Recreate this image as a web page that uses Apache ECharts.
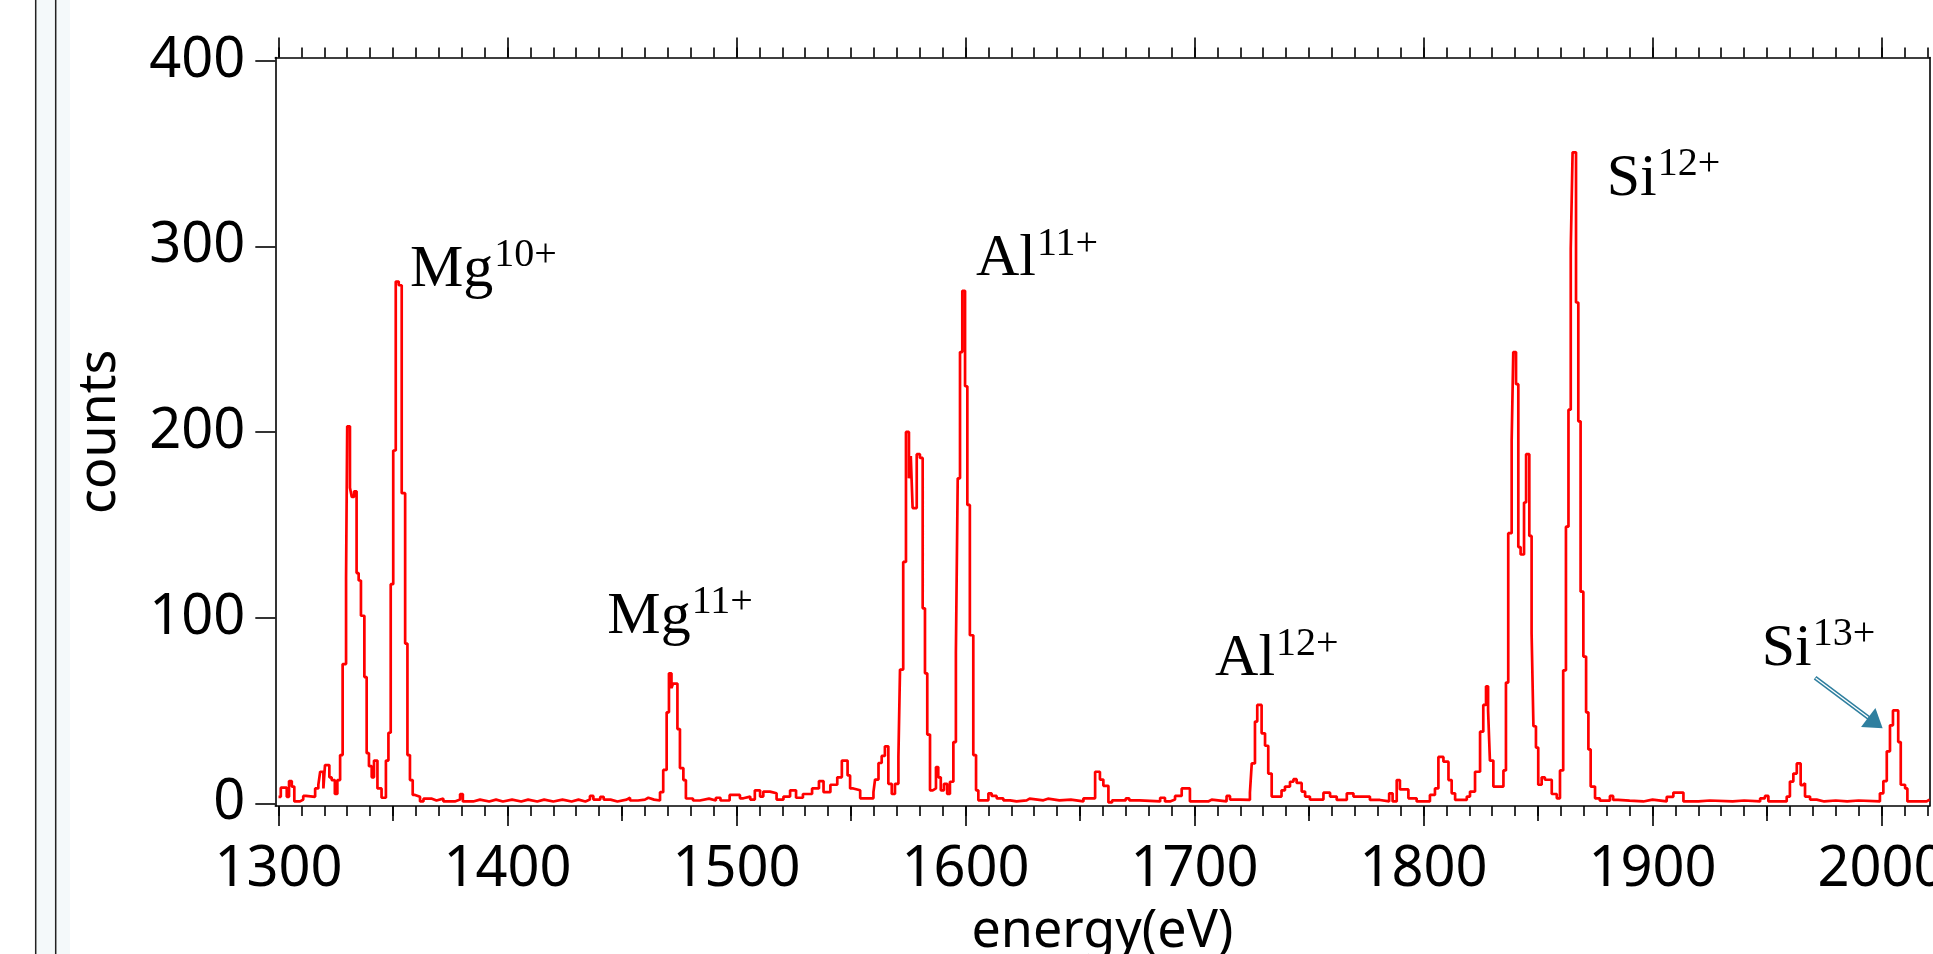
<!DOCTYPE html>
<html><head><meta charset="utf-8">
<script src="https://cdn.jsdelivr.net/npm/echarts@6/dist/echarts.min.js"></script>
<style>html,body{margin:0;padding:0;background:#fff}#c{width:1933px;height:954px}</style>
</head><body><div id="c"></div>
<script>
// ---- data: left edge of each histogram step (eV) and its counts ----
const energy = [
1300.0,1301.0,1303.6,1304.6,1305.8,1306.9,1309.4,1310.8,1312.0,1316.0,1317.4,1318.2,1319.6,1320.3,1322.2,1323.2,1324.6,1325.7,1326.9,1328.0,
1329.5,1330.0,1331.2,1332.0,1333.0,1334.1,1335.0,1336.0,1337.5,1338.5,1339.5,1340.7,1341.7,1343.2,1345.0,1346.9,1348.0,1349.0,1350.1,1351.2,
1352.5,1353.8,1355.3,1356.3,1357.4,1358.6,1359.6,1361.8,1363.3,1367.0,1369.0,1372.0,1377.0,1379.3,1380.5,1385.0,1388.0,1392.0,1395.0,1398.0,
1402.0,1406.0,1409.0,1413.0,1416.0,1420.0,1424.0,1428.0,1431.0,1434.0,1436.0,1437.5,1440.5,1442.0,1445.0,1448.0,1452.0,1453.5,1457.0,1460.0,
1461.5,1464.0,1466.6,1468.0,1469.5,1470.5,1471.6,1472.3,1474.2,1475.3,1476.8,1477.9,1481.0,1484.0,1488.0,1491.0,1493.0,1497.0,1501.5,1503.0,
1506.0,1508.0,1510.3,1511.7,1514.6,1517.5,1520.5,1523.4,1526.0,1529.0,1533.0,1536.0,1538.0,1541.0,1544.0,1546.0,1548.5,1549.6,1551.0,1554.0,
1559.8,1560.5,1562.0,1563.4,1564.8,1566.3,1567.8,1569.2,1570.7,1571.4,1572.8,1574.0,1575.3,1576.1,1576.9,1578.7,1580.1,1581.3,1582.3,1583.3,
1584.5,1585.7,1587.1,1588.1,1589.2,1590.6,1592.0,1593.2,1594.7,1595.8,1596.6,1597.6,1598.6,1599.8,1600.8,1601.9,1603.4,1604.6,1605.6,1610.0,
1611.4,1613.6,1616.5,1619.5,1622.3,1626.7,1628.0,1634.0,1636.0,1641.0,1646.0,1651.5,1656.6,1658.7,1660.2,1662.4,1664.0,1670.0,1671.5,1676.0,
1685.0,1687.1,1689.3,1691.5,1694.4,1698.0,1706.0,1707.5,1714.0,1715.5,1720.0,1724.2,1725.0,1726.4,1727.4,1729.3,1730.8,1732.2,1733.7,1738.0,
1739.5,1741.7,1743.2,1744.6,1746.8,1748.3,1750.4,1756.3,1759.2,1762.1,1766.5,1769.4,1776.6,1781.0,1785.0,1786.5,1788.3,1789.7,1793.4,1797.0,
1802.8,1805.0,1806.5,1808.7,1810.9,1812.3,1813.8,1818.9,1820.3,1822.5,1824.7,1826.1,1827.3,1828.2,1829.0,1830.5,1834.9,1836.0,1837.0,1838.5,
1839.2,1840.4,1841.4,1842.4,1843.9,1844.8,1846.2,1847.2,1848.0,1849.1,1850.1,1851.6,1853.0,1856.0,1858.2,1859.6,1861.0,1862.2,1863.3,1864.3,
1865.1,1866.6,1867.6,1868.6,1869.8,1871.0,1872.0,1873.0,1874.9,1877.0,1881.4,1882.8,1885.0,1890.0,1896.0,1900.0,1906.2,1909.1,1913.5,1920.0,
1925.0,1935.0,1940.0,1947.0,1949.1,1950.6,1958.6,1960.0,1961.5,1963.0,1964.7,1965.6,1966.6,1968.8,1971.7,1975.0,1980.0,1985.0,1990.0,1999.3,
2000.8,2002.3,2003.7,2005.0,2007.3,2008.4,2010.3,2011.3,2019.7
];
const counts = [
3.5,8.4,3.5,12,9,1,2,4,3.5,8,10,17,8,20.6,14,12.5,5,12.5,26,75,
121,203,170,165,168,124,120,101,68,27,20,14,23,8,3,23,38,118,190,281,
279,167,86,26,12.5,4.5,3.5,1,2.5,1.5,2.5,1,2,5,1,2,1,2,1,2,
1,2,1,2,1,2,1,2,1,2,4,2,3.5,2,1,2,3,1.5,2,3,
2,1.5,6,18,49,70,62,64.5,40,19,12.5,2.6,1.5,2.5,1.5,3,1.5,4.5,2.7,3.6,
2,7,3.6,6.3,5.4,2,3.6,7,3,5,8,12,6,10,14,23,15,8,7,2.7,
6,12.8,21.7,25.5,30.7,10.5,5,10.5,25,72,130,200,175,187,159,188,186,105,70,37,
7,8,19.5,14,7,10.5,5,11.6,33,81,175,243,276,224.6,160.7,90.5,26,7,1.6,5.4,
4,2.7,1.6,1,1.6,2.5,1.6,2.5,1.6,2,1,2.7,17,12.8,9.4,0.5,1.6,2.7,1.6,1,
3,1,2,4,8,1,2,1,4,2,1.8,5.7,21.5,44,53,37.7,31,16,3.6,7,
9,11.6,13,11,6.3,3.6,2,5.7,3.6,1.8,5.4,3.6,1.8,1,5.4,1,12.5,7.5,2.7,1,
4.5,8,25,22.4,12.5,5.4,1.8,3.6,6.3,17,38.6,53,63,50,23,9,17.7,65,145.5,195.7,
243,225.7,138,134,162,188,144,91.6,41.5,30,10,14,12.7,5,2.7,17.7,71.6,149,212,298.5,
350.6,269.7,205.7,114,79,49,29,9,2.7,1.4,4,1.8,1.4,1,2,1,3.5,5.8,1,1.5,
1,1.5,1,2.7,4,1,3.6,11.7,16,21.5,9.8,10.8,3.6,2,1,1.5,1,1.5,1,5.4,
12,28,42,50,33,10,8,1,2
];
const lastEdge = 2021;

const xTickValues = [1300,1400,1500,1600,1700,1800,1900,2000];
const xTickLabels = ['1300','1400','1500','1600','1700','1800','1900','2000'];
const yTickValues = [0,100,200,300,400];
const yTickLabels = ['0','100','200','300','400'];

// peak labels: element, charge, anchor (left edge energy, baseline counts)
const peakNames  = ['Mg','Mg','Al','Al','Si','Si'];
const peakCharge = ['10+','11+','11+','12+','12+','13+'];
const peakLabelX = [1357.4,1443.6,1604.6,1709.0,1880.0,1947.7];
const peakLabelY = [278.6,91.5,284.3,69.1,327.4,74.5];
const arrowFrom = [1971.0, 67.6];
const arrowTo   = [2000.5, 40.4];

// ---- chart ----
const X_MIN = 1298.6, X_MAX = 2021, Y_MIN = -1.45, Y_MAX = 401.6;
const SANS = 'Noto Sans';
const SERIF = 'Liberation Serif';
const AX = {color:'#000', width:1.6};

const xMinor = []; for (let v = 1300; v <= 2020; v += 10) xMinor.push(v);
const xMid = []; for (let v = 1350; v <= 2000; v += 100) xMid.push(v);

const pts = energy.map((e,i)=>[e, counts[i]]);
pts.push([lastEdge, counts[counts.length-1]]);

function xAx(extra){
  return Object.assign({type:'value', min:X_MIN, max:X_MAX, gridIndex:0, splitLine:{show:false},
    axisLabel:{show:false}, axisTick:{show:false}, axisLine:{show:false,onZero:false}}, extra);
}

const chart = echarts.init(document.getElementById('c'), null, {renderer:'canvas'});
chart.setOption({
  animation:false,
  backgroundColor:'#fff',
  grid:{left:275.3, right:3.4, top:57.6, bottom:148, containLabel:false, outerBoundsMode:'none'},
  xAxis:[
    xAx({position:'bottom', axisLine:{show:true,onZero:false,lineStyle:AX},
      axisTick:{show:true, customValues:xTickValues, length:20, lineStyle:AX},
      axisLabel:{show:true, customValues:xTickValues, formatter:v=>xTickLabels[xTickValues.indexOf(v)],
        margin:36, fontSize:56, lineHeight:56, fontFamily:SANS, color:'#000'},
      name:'energy(eV)', nameLocation:'middle', nameGap:100,
      nameTextStyle:{fontSize:52, lineHeight:52, fontFamily:SANS, color:'#000'}}),
    xAx({position:'bottom', axisTick:{show:true, customValues:xMid, length:15, lineStyle:AX}}),
    xAx({position:'bottom', axisTick:{show:true, customValues:xMinor, length:10, lineStyle:AX}}),
    xAx({position:'top', axisLine:{show:true,onZero:false,lineStyle:AX},
      axisTick:{show:true, customValues:xTickValues, length:20, lineStyle:AX}}),
    xAx({position:'top', axisTick:{show:true, customValues:xMinor, length:10, lineStyle:AX}})
  ],
  yAxis:[
    {type:'value', min:Y_MIN, max:Y_MAX, position:'left', splitLine:{show:false},
      axisLine:{show:true,onZero:false,lineStyle:AX},
      axisTick:{show:true, customValues:yTickValues, length:20, lineStyle:AX},
      axisLabel:{show:true, customValues:yTickValues, formatter:v=>yTickLabels[yTickValues.indexOf(v)],
        margin:30, fontSize:56, lineHeight:56, fontFamily:SANS, color:'#000'},
      name:'counts', nameLocation:'middle', nameGap:149, nameRotate:90,
      nameTextStyle:{fontSize:52, lineHeight:52, fontFamily:SANS, color:'#000'}},
    {type:'value', min:Y_MIN, max:Y_MAX, position:'right', splitLine:{show:false},
      axisLine:{show:true,onZero:false,lineStyle:AX}, axisTick:{show:false}, axisLabel:{show:false}}
  ],
  series:[{
    type:'line', xAxisIndex:0, yAxisIndex:0, step:'end', symbol:'none', showSymbol:false,
    data:pts, clip:true, z:3,
    lineStyle:{color:'#ff0000', width:2.7}, itemStyle:{color:'#ff0000'}
  }]
});

// ---- annotations (placed through the axes' scales) ----
const mctx = document.createElement('canvas').getContext('2d');
function measure(font, txt){ mctx.font = font; mctx.textBaseline='middle'; return mctx.measureText(txt); }
const BASE_FONT = '60px "' + SERIF + '"';
const SUP_FONT = '40px "' + SERIF + '"';
const dBase = measure(BASE_FONT,'M').actualBoundingBoxDescent;
const dSup = measure(SUP_FONT,'1').actualBoundingBoxDescent;

const g = [];
// left decoration strip
g.push({type:'rect', shape:{x:36, y:0, width:34, height:954}, style:{fill:'#f4f9fa'}, z:0, silent:true});
g.push({type:'line', shape:{x1:35.7,y1:0,x2:35.7,y2:954}, style:{stroke:'#222', lineWidth:1.5}, silent:true});
g.push({type:'line', shape:{x1:55.7,y1:0,x2:55.7,y2:954}, style:{stroke:'#222', lineWidth:1.5}, silent:true});

for (let i = 0; i < peakNames.length; i++) {
  const p = chart.convertToPixel({xAxisIndex:0, yAxisIndex:0}, [peakLabelX[i], peakLabelY[i]]);
  const w = measure(BASE_FONT, peakNames[i]).width;
  g.push({type:'text', x:p[0], y:p[1]-dBase, z:10,
    style:{text:peakNames[i], font:BASE_FONT, fill:'#000', align:'left', verticalAlign:'middle'}});
  g.push({type:'text', x:p[0]+w+1, y:p[1]-20-dSup, z:10,
    style:{text:peakCharge[i], font:SUP_FONT, fill:'#000', align:'left', verticalAlign:'middle'}});
}
// arrow to Si13+
const A = chart.convertToPixel({xAxisIndex:0, yAxisIndex:0}, arrowFrom);
const T = chart.convertToPixel({xAxisIndex:0, yAxisIndex:0}, arrowTo);
const dx = T[0]-A[0], dy = T[1]-A[1], L = Math.hypot(dx,dy);
const ux = dx/L, uy = dy/L, nx = -uy, ny = ux;
const HL = 18, HW = 12;
const B = [T[0]-HL*ux, T[1]-HL*uy];
const AC = '#2f7f9f';
g.push({type:'line', shape:{x1:A[0],y1:A[1],x2:B[0]+2*ux,y2:B[1]+2*uy}, style:{stroke:AC, lineWidth:4.4}, z:11});
g.push({type:'line', shape:{x1:A[0]+0.8*ux,y1:A[1]+0.8*uy,x2:B[0],y2:B[1]}, style:{stroke:'#fff', lineWidth:1.4}, z:12});
g.push({type:'polygon', shape:{points:[[T[0],T[1]],[B[0]+HW*nx,B[1]+HW*ny],[B[0]-HW*nx,B[1]-HW*ny]]}, style:{fill:AC}, z:13});

chart.setOption({graphic:g});
</script>
</body></html>
